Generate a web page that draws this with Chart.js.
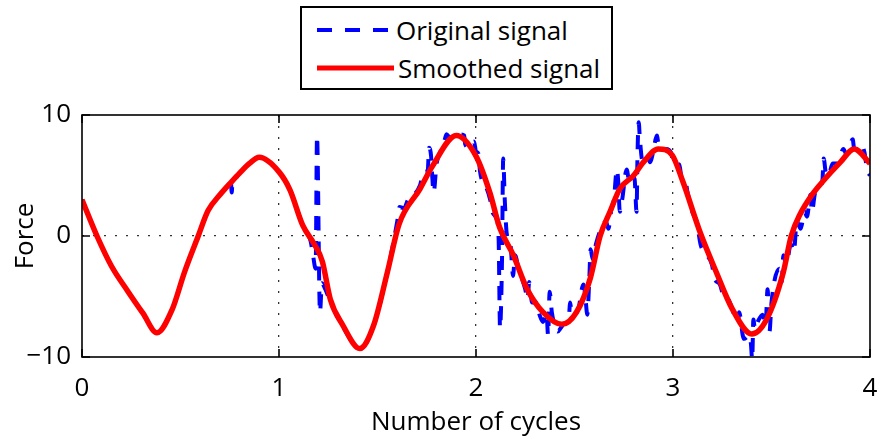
<!DOCTYPE html>
<html>
<head>
<meta charset="utf-8">
<script src="https://cdn.jsdelivr.net/npm/chart.js@4.4.0/dist/chart.umd.min.js"></script>
<style>
html,body{margin:0;padding:0;background:#fff;}
#wrap{position:relative;width:883px;height:444px;overflow:hidden;}
#c{position:absolute;left:0;top:0;}
#legend{position:absolute;left:300px;top:6px;width:309px;height:80px;border:2px solid #000;background:#fff;
  font-family:"Open Sans",sans-serif;font-size:26px;color:#000;}
.row{position:absolute;left:15px;height:36px;display:flex;align-items:center;white-space:nowrap;}
.row svg{display:block;margin-right:4px;}
</style>
</head>
<body>
<div id="wrap">
<canvas id="c" width="883" height="444"></canvas>
<div id="legend">
  <div class="row" style="top:4px"><svg width="75" height="8"><line x1="0" y1="4" x2="75" y2="4" stroke="#0000ff" stroke-width="4" stroke-dasharray="15 13"/></svg><span>Original signal</span></div>
  <div class="row" style="top:42px"><svg width="77" height="8"><line x1="0" y1="4" x2="77" y2="4" stroke="#ff0000" stroke-width="5"/></svg><span>Smoothed signal</span></div>
</div>
</div>
<script>
// ---- data ----
const xTicks = [0, 1, 2, 3, 4];
const yTicks = [-10, 0, 10];

const smoothX = [0,0.076,0.15,0.234,0.31,0.38,0.457,0.52,0.59,0.64,0.70,0.76,0.80,0.85,0.90,1.00,1.056,1.12,1.18,1.22,1.26,1.325,1.41,
  1.48,1.55,1.61,1.716,1.78,1.90,2.00,2.07,2.12,2.19,2.26,2.34,2.435,2.51,2.58,2.63,2.68,2.73,2.80,2.85,
  2.925,2.995,3.05,3.14,3.22,3.30,3.40,3.475,3.56,3.60,3.645,3.71,3.76,3.85,3.92,4.00];
const smoothY = [3.0,0.0,-2.5,-4.6,-6.4,-8.0,-6.1,-3.0,0.0,2.1,3.4,4.5,5.2,6.0,6.5,5.3,3.8,0.9,-0.7,-2.1,-5.2,-7.4,-9.3,
  -7.4,-3.0,1.0,3.9,5.8,8.3,6.6,3.6,0.7,-1.6,-4.4,-6.3,-7.3,-6.3,-3.5,0.0,2.0,3.9,5.0,6.1,
  7.2,6.7,4.5,0.2,-3.0,-6.0,-8.1,-6.9,-3.0,0.0,1.8,3.5,4.5,6.1,7.2,6.0];

const origX = [
  0.00,0.076,0.15,0.234,0.31,0.38,0.457,0.52,0.59,0.64,
  0.70,0.75,0.756,0.760,0.764,0.770,0.80,0.85,0.90,1.00,
  1.056,1.12,1.16,1.172,
  1.186,1.193,1.208,1.218,1.235,1.26,1.325,1.41,1.48,1.55,
  1.60,1.612,1.635,1.655,1.68,1.716,1.735,1.755,1.762,1.772,
  1.778,1.785,1.80,1.82,1.835,1.85,1.87,1.89,1.92,1.94,
  1.945,1.965,1.99,2.00,2.012,2.02,2.035,2.05,2.072,2.085,
  2.105,2.115,2.122,2.132,2.138,2.146,2.156,2.175,2.188,2.198,
  2.215,2.225,2.237,2.25,2.262,2.27,2.285,2.30,2.32,2.34,
  2.358,2.366,2.374,2.385,2.40,2.415,2.43,2.45,2.47,2.478,
  2.486,2.50,2.52,2.545,2.555,2.565,2.575,2.582,2.592,2.61,
  2.64,2.66,2.672,2.688,2.70,2.715,2.722,2.73,2.742,2.765,
  2.778,2.79,2.805,2.815,2.82,2.826,2.832,2.845,2.87,2.883,
  2.90,2.918,2.928,2.945,2.965,2.99,3.002,3.032,3.045,3.062,
  3.074,3.098,3.12,3.14,3.156,3.198,3.21,3.238,3.255,3.28,
  3.30,3.31,3.33,3.336,3.354,3.36,3.39,3.396,3.402,3.408,
  3.416,3.43,3.455,3.47,3.48,3.49,3.50,3.54,3.552,3.56,
  3.575,3.598,3.614,3.628,3.648,3.668,3.68,3.698,3.705,3.722,
  3.758,3.765,3.775,3.79,3.81,3.835,3.865,3.882,3.912,3.92,
  3.958,3.972,3.985,4.00];
const origY = [
  3.0,0.0,-2.5,-4.6,-6.4,-8.0,-6.1,-3.0,0.0,2.1,
  3.4,4.3,4.4,3.6,4.5,4.6,5.2,6.0,6.5,5.3,
  3.8,0.9,-0.4,-1.5,
  -2.7,8.3,-6.3,-3.9,-4.4,-5.4,-7.5,-9.3,-7.4,-3.0,
  1.2,2.4,2.3,3.0,3.3,4.2,5.3,5.4,7.3,6.6,
  4.9,3.6,6.0,7.0,7.5,8.4,8.1,8.5,8.4,8.3,
  7.6,7.3,7.8,7.0,6.8,5.4,4.4,4.1,3.0,1.9,
  1.4,-0.3,-7.6,-2.0,6.4,3.0,0.2,-0.7,-3.3,-1.6,
  -2.6,-3.2,-3.7,-4.4,-5.2,-3.8,-5.5,-5.4,-6.4,-7.1,
  -6.4,-8.2,-4.6,-6.3,-7.4,-7.9,-7.6,-7.2,-7.0,-5.5,
  -6.5,-6.4,-6.0,-4.0,-5.0,-6.5,-3.6,-1.1,-1.9,-0.6,
  0.8,1.2,0.6,2.3,3.0,5.5,4.5,2.0,3.0,5.5,
  4.5,5.0,4.7,2.0,6.9,9.4,8.0,6.2,6.6,6.1,
  7.0,8.3,7.4,7.2,7.2,6.9,6.0,5.9,4.7,4.6,
  3.6,2.0,1.2,-0.7,-1.3,-2.4,-3.5,-4.0,-4.9,-5.2,
  -6.0,-6.5,-7.1,-6.3,-8.2,-8.5,-8.2,-9.0,-10.2,-6.9,
  -7.7,-7.1,-6.5,-7.4,-4.4,-7.9,-5.5,-2.7,-3.8,-1.6,
  -2.4,-0.7,-1.3,1.2,0.6,2.0,1.6,3.4,2.0,3.6,
  4.5,6.4,5.3,5.0,6.0,6.0,7.2,6.7,8.0,7.2,
  7.5,6.9,5.5,5.0];

// ---- chart ----
const FONT = {family: '"Open Sans", sans-serif', size: 26};
const pts = (xs, ys) => xs.map((x, i) => ({x: x, y: ys[i]}));
const edgeHidden = (lo, hi) => (c) => (c.tick && (c.tick.value === lo || c.tick.value === hi)) ? 'rgba(0,0,0,0)' : '#333';

const framePlugin = {
  id: 'frame',
  afterDraw(chart) {
    const {ctx, chartArea: a, scales} = chart;
    ctx.save();
    ctx.strokeStyle = '#000';
    ctx.lineWidth = 1.6;
    ctx.lineCap = 'butt';
    ctx.setLineDash([]);
    ctx.strokeRect(a.left, a.top, a.right - a.left, a.bottom - a.top);
    const L = 8;
    ctx.beginPath();
    xTicks.forEach(v => {
      const px = scales.x.getPixelForValue(v);
      ctx.moveTo(px, a.bottom); ctx.lineTo(px, a.bottom - L);
      ctx.moveTo(px, a.top); ctx.lineTo(px, a.top + L);
    });
    yTicks.forEach(v => {
      const py = scales.y.getPixelForValue(v);
      ctx.moveTo(a.left, py); ctx.lineTo(a.left + L, py);
      ctx.moveTo(a.right, py); ctx.lineTo(a.right - L, py);
    });
    ctx.stroke();
    ctx.restore();
  }
};

new Chart(document.getElementById('c'), {
  type: 'line',
  data: {
    datasets: [
      {label: 'Original signal', data: pts(origX, origY), borderColor: '#0000ff', borderWidth: 4,
       borderDash: [14, 11], pointRadius: 0, cubicInterpolationMode: 'monotone', fill: false, order: 2},
      {label: 'Smoothed signal', data: pts(smoothX, smoothY), borderColor: '#ff0000', borderWidth: 5.5,
       pointRadius: 0, cubicInterpolationMode: 'monotone', fill: false, order: 1}
    ]
  },
  options: {
    responsive: false,
    animation: false,
    layout: {padding: {top: 115, right: 13, bottom: 0, left: 0}},
    plugins: {legend: {display: false}, tooltip: {enabled: false}},
    scales: {
      x: {
        type: 'linear', min: 0, max: 4,
        afterBuildTicks: s => { s.ticks = xTicks.map(v => ({value: v})); },
        ticks: {font: FONT, color: '#000', padding: 16, maxRotation: 0, callback: v => String(v)},
        grid: {color: edgeHidden(0, 4), lineWidth: 1.3, drawTicks: false},
        border: {display: false, dash: [2, 9]},
        title: {display: true, text: 'Number of cycles', font: FONT, color: '#000', padding: {top: 0, bottom: 6}},
        afterFit: s => { s.height = 87; s.paddingLeft = 0; s.paddingRight = 0; }
      },
      y: {
        type: 'linear', min: -10, max: 10,
        afterBuildTicks: s => { s.ticks = yTicks.map(v => ({value: v})); },
        ticks: {font: FONT, color: '#000', padding: 11, callback: v => v < 0 ? '\u2212' + Math.abs(v) : String(v)},
        grid: {color: edgeHidden(-10, 10), lineWidth: 1.3, drawTicks: false},
        border: {display: false, dash: [2, 9]},
        title: {display: true, text: 'Force', font: FONT, color: '#000', padding: {top: 10, bottom: 0}},
        afterFit: s => { s.width = 82; s.paddingTop = 0; s.paddingBottom = 0; }
      }
    }
  },
  plugins: [framePlugin]
});
</script>
</body>
</html>
